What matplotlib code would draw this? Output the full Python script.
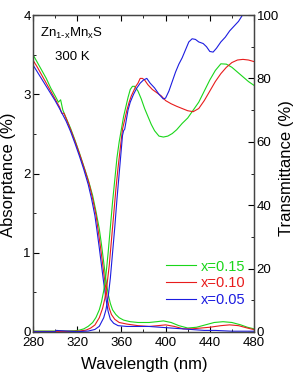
import numpy as np
import matplotlib
matplotlib.use("Agg")
import matplotlib.pyplot as plt
from matplotlib.ticker import MultipleLocator

plt.rcParams['font.family'] = ['Liberation Sans', 'DejaVu Sans']
plt.rcParams['mathtext.default'] = 'regular'

# cores das series
verde = '#1ad61a'
vermelho = '#e81c1c'
azul = '#1c1ce0'

# Absorptancia (eixo esquerdo)
wl_abs_g = [280, 284, 288, 292, 296, 300, 303, 305, 307, 310, 314, 318, 322, 326, 330, 334, 337,
            340, 342, 344, 346, 348, 350, 352, 355, 358, 362, 368, 375, 385, 392, 398, 405, 412,
            420, 428, 436, 444, 452, 460, 468, 474, 480]
abs_g = [3.50, 3.40, 3.30, 3.20, 3.08, 2.98, 2.90, 2.93, 2.80, 2.70, 2.57, 2.42, 2.26, 2.09, 1.92,
         1.72, 1.52, 1.30, 1.10, 0.88, 0.66, 0.48, 0.36, 0.28, 0.22, 0.18, 0.15, 0.13, 0.12, 0.12,
         0.13, 0.14, 0.12, 0.08, 0.05, 0.06, 0.09, 0.12, 0.13, 0.12, 0.09, 0.06, 0.04]

wl_abs_r = [280, 284, 288, 292, 296, 300, 304, 306, 308, 311, 315, 319, 323, 327, 331, 334, 337,
            339, 341, 343, 345, 347, 349, 351, 354, 358, 365, 375, 385, 393, 400, 408, 416, 424,
            432, 440, 450, 458, 466, 474, 480]
abs_r = [3.43, 3.34, 3.24, 3.14, 3.04, 2.94, 2.84, 2.76, 2.76, 2.66, 2.52, 2.37, 2.21, 2.04, 1.86,
         1.68, 1.48, 1.28, 1.08, 0.86, 0.64, 0.44, 0.30, 0.22, 0.16, 0.12, 0.10, 0.08, 0.07, 0.08,
         0.09, 0.07, 0.04, 0.04, 0.05, 0.06, 0.08, 0.09, 0.08, 0.05, 0.03]

wl_abs_b = [280, 284, 288, 292, 296, 300, 304, 307, 310, 314, 318, 322, 326, 330, 333, 336, 338,
            340, 342, 344, 346, 348, 350, 353, 357, 365, 375, 385, 395, 405, 415, 425, 435, 445,
            460, 480]
abs_b = [3.37, 3.28, 3.19, 3.10, 3.01, 2.92, 2.82, 2.74, 2.66, 2.53, 2.38, 2.22, 2.05, 1.86, 1.68,
         1.47, 1.27, 1.06, 0.84, 0.62, 0.42, 0.26, 0.16, 0.11, 0.08, 0.07, 0.07, 0.07, 0.06, 0.05,
         0.04, 0.03, 0.02, 0.02, 0.01, 0.01]

# Transmitancia (eixo direito)
wl_tr_g = [280, 300, 310, 318, 322, 326, 330, 334, 337, 340, 342, 344, 346, 348, 350, 352, 354,
           356, 358, 360, 362, 364, 366, 368, 370, 372, 375, 378, 381, 384, 387, 390, 394, 398,
           402, 406, 410, 415, 420, 425, 430, 435, 440, 445, 450, 455, 460, 465, 470, 475, 480]
tr_g = [0.3, 0.3, 0.3, 0.4, 0.6, 1.0, 1.8, 3.0, 4.6, 7.0, 9.5, 13, 18, 25, 33, 41, 48, 55, 60,
        64, 68, 71, 74, 76.5, 77.5, 77.5, 76, 73.5, 70.5, 68, 65.5, 63.5, 61.8, 61.5, 61.8, 62.6,
        63.8, 65.8, 67.5, 70, 72.5, 76, 79.5, 82.5, 84.6, 84.5, 83.5, 82, 80.5, 79, 77.8]

wl_tr_r = [280, 310, 322, 328, 332, 336, 340, 343, 345, 347, 349, 351, 353, 355, 357, 359, 361,
           363, 365, 367, 369, 371, 373, 375, 377, 379, 381, 384, 388, 392, 396, 400, 405, 410,
           415, 420, 425, 430, 435, 440, 445, 450, 455, 460, 465, 470, 475, 480]
tr_r = [0.2, 0.2, 0.3, 0.6, 1.2, 2.2, 4.5, 7.5, 10.5, 15, 21, 29, 37, 45, 52, 58, 64, 67, 70,
        72.5, 74.5, 76, 77.5, 78.5, 80, 80, 79.5, 78, 76.5, 75.5, 74.5, 73, 72, 71.2, 70.5, 69.8,
        69.5, 70.5, 73, 76, 79, 81.5, 83.5, 85, 85.8, 86, 85.8, 85.3]

wl_tr_b = [280, 300, 301, 320, 330, 336, 340, 344, 346, 348, 350, 352, 354, 356, 358, 360, 361,
           362, 363, 364, 366, 368, 371, 374, 377, 380, 383, 386, 390, 394, 398, 400, 403, 406,
           409, 412, 415, 418, 421, 424, 427, 430, 434, 437, 440, 443, 446, 450, 454, 458, 462,
           466, 470, 474, 480]
tr_b = [0.1, 0.1, 0.5, 0.1, 0.3, 0.8, 1.8, 4.5, 7, 11, 17, 25, 33, 42, 50, 58, 62, 63.5, 64, 66,
        70, 72.5, 75, 77, 78.5, 79.5, 80, 78.5, 77, 75, 73.5, 73.8, 76, 79, 82, 84.5, 86.5, 89,
        91.5, 92.5, 92.3, 91.5, 91, 90, 88.5, 88.3, 89.5, 91.5, 93, 95, 96.5, 98, 100.2, 101.5, 103]

rotulos = ['x=0.15', 'x=0.10', 'x=0.05']

W, H = 294, 377
fig = plt.figure(figsize=(W / 100, H / 100), dpi=100)
ax = fig.add_axes([33 / W, 1 - 332 / H, 221 / W, 317 / H])
ax2 = ax.twinx()

lw = 0.8
ax.plot(wl_abs_g, abs_g, color=verde, lw=lw)
ax.plot(wl_abs_r, abs_r, color=vermelho, lw=lw)
ax.plot(wl_abs_b, abs_b, color=azul, lw=lw)

lg, = ax2.plot(wl_tr_g, tr_g, color=verde, lw=lw)
lr, = ax2.plot(wl_tr_r, tr_r, color=vermelho, lw=lw)
lb, = ax2.plot(wl_tr_b, tr_b, color=azul, lw=lw)

ax.set_xlim(280, 480)
ax.set_ylim(0, 4)
ax2.set_ylim(0, 100)

ax.xaxis.set_major_locator(MultipleLocator(40))
ax.xaxis.set_minor_locator(MultipleLocator(20))
ax.yaxis.set_major_locator(MultipleLocator(1))
ax.yaxis.set_minor_locator(MultipleLocator(0.5))
ax2.yaxis.set_major_locator(MultipleLocator(20))
ax2.yaxis.set_minor_locator(MultipleLocator(10))

ax.tick_params(which='both', direction='in', top=True, right=False, labelsize=9.5)
ax.tick_params(axis='x', pad=3.5)
ax.tick_params(axis='y', pad=1.5)
ax.tick_params(which='major', length=4)
ax.tick_params(which='minor', length=2.5)
ax2.tick_params(which='both', direction='in', labelsize=9.5, pad=2)
ax2.tick_params(which='major', length=4)
ax2.tick_params(which='minor', length=2.5)

for a in (ax, ax2):
    for s in a.spines.values():
        s.set_color('#444444')
        s.set_linewidth(0.9)

# rotulos dos eixos posicionados como na figura original
fig.text(144 / W, 1 - 364 / H, 'Wavelength (nm)', ha='center', va='center', fontsize=12)
fig.text(9 / W, 1 - 175 / H, 'Absorptance (%)', ha='center', va='center', fontsize=12,
         rotation=90)
fig.text(286 / W, 1 - 168 / H, 'Transmittance (%)', ha='center', va='center', fontsize=12,
         rotation=90)

ax.text(0.172, 0.943, r'Zn$_{1\text{-}x}$Mn$_x$S', transform=ax.transAxes,
        ha='center', va='center', fontsize=9.5)
ax.text(0.176, 0.868, '300 K', transform=ax.transAxes, ha='center', va='center', fontsize=9.5)

leg = ax2.legend([lg, lr, lb], rotulos, loc='lower right', bbox_to_anchor=(1.0, 0.05),
                 frameon=False, fontsize=10.5, handlelength=2.1, handletextpad=0.3,
                 labelspacing=0.2, borderaxespad=0.2)
for txt, cor in zip(leg.get_texts(), [verde, vermelho, azul]):
    txt.set_color(cor)

fig.savefig('out.png', dpi=100)
